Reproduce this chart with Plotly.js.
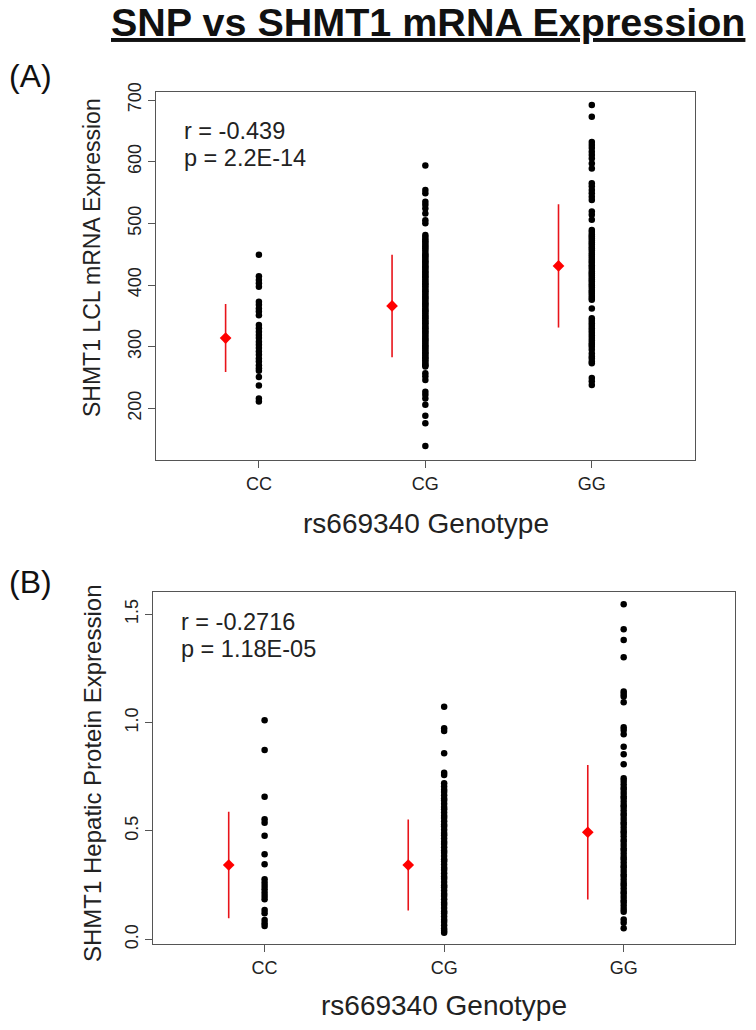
<!DOCTYPE html>
<html><head><meta charset="utf-8">
<script src="https://cdn.plot.ly/plotly-3.0.1.min.js"></script>
<style>html,body{margin:0;padding:0;background:#fff}#chart{width:756px;height:1030px}</style>
</head><body><div id="chart"></div>
<script>
// ---------- DATA ----------
const genotypes = ["CC", "CG", "GG"];

// Panel A: SHMT1 LCL mRNA expression
const mrnaCC = [449, 414, 408, 403, 397, 373, 368, 362, 357, 351, 335, 330, 324, 319, 314, 308, 303, 298, 292, 287, 281, 276, 270, 265, 261, 251, 237, 216, 211];
const mrnaCG = [594, 554, 549, 535, 530, 524, 516, 505, 500,
  481, 478, 474, 471, 468, 465, 462, 459, 456, 452, 449, 447, 444, 441, 438, 436, 433, 430, 428, 425, 422, 420, 417, 414, 412, 409, 406, 403, 401, 398, 395, 392, 390, 387, 384, 381, 379, 376, 373, 370, 368, 365, 362, 359, 357, 354, 351, 348, 346, 343, 340, 338, 335, 332, 330, 327, 324, 322, 319, 316, 313, 311, 308, 305, 302, 300, 297, 294, 291, 289, 286, 283, 281, 278, 275, 272, 270, 268,
  257, 252, 246, 227, 222, 216, 206, 188, 176, 139];
const mrnaGG = [692, 673, 632, 627, 622, 616, 611, 605, 597, 589, 565, 560, 554, 549, 543, 538, 519, 514, 506,
  489, 486, 482, 479, 476, 472, 469, 466, 462, 459, 456, 452, 449, 446, 442, 439, 436, 432, 429, 426, 422, 419, 416, 412, 409, 406, 402, 399, 396, 392, 389, 386, 382, 379, 376,
  362, 346, 342, 338, 334, 330, 326, 322, 318, 314, 310, 306, 303, 300, 295, 289, 284, 281, 276, 273, 249, 244, 238];
const mrnaMean = [314, 366, 431];
const mrnaSD = [55, 83, 100];
const mrnaStats = ["r = -0.439", "p = 2.2E-14"];

// Panel B: SHMT1 hepatic protein expression
const protCC = [1.011, 0.873, 0.658, 0.554, 0.538, 0.478, 0.392, 0.346, 0.277, 0.261, 0.246, 0.231, 0.215, 0.200, 0.185, 0.135, 0.120, 0.089, 0.074, 0.061];
const protCG = [1.073, 0.974, 0.961, 0.858, 0.769, 0.758,
  0.72, 0.705, 0.69, 0.68, 0.665, 0.65, 0.64, 0.625, 0.61, 0.60, 0.585, 0.57, 0.56, 0.545, 0.53, 0.52, 0.505, 0.49, 0.48, 0.465, 0.45, 0.44, 0.425, 0.41, 0.40, 0.385, 0.37, 0.36, 0.345, 0.33, 0.32, 0.305, 0.29, 0.28, 0.265, 0.25, 0.24, 0.225, 0.21, 0.20, 0.185, 0.17, 0.16, 0.145, 0.13, 0.12, 0.105, 0.09, 0.08, 0.065, 0.05, 0.04, 0.03];
const protGG = [1.546, 1.431, 1.381, 1.301, 1.143, 1.132, 1.120, 1.094, 0.978, 0.966, 0.946, 0.889, 0.854, 0.808,
  0.743, 0.73, 0.715, 0.70, 0.69, 0.675, 0.66, 0.65, 0.635, 0.62, 0.61, 0.595, 0.58, 0.57, 0.555, 0.54, 0.53, 0.515, 0.50, 0.49, 0.475, 0.46, 0.45, 0.435, 0.42, 0.41, 0.395, 0.38, 0.37, 0.355, 0.34, 0.33, 0.315, 0.30, 0.29, 0.275, 0.26, 0.25, 0.235, 0.22, 0.21, 0.195, 0.18, 0.17, 0.155, 0.14, 0.127,
  0.092, 0.077, 0.051];
const protMean = [0.343, 0.343, 0.494];
const protSD = [0.246, 0.21, 0.31];
const protStats = ["r = -0.2716", "p = 1.18E-05"];

const yTicksA = [200, 300, 400, 500, 600, 700];
const yTicksB = [0, 0.5, 1.0, 1.5];
const yTickTextB = ["0.0", "0.5", "1.0", "1.5"];

// ---------- STYLE ----------
const W = 756, H = 1030;
const FONT = "Liberation Sans, Arial, Helvetica, sans-serif";
const px = v => v / W, py = v => 1 - v / H;
const MEAN_OFFSET = -0.2;

function dots(vals, i, xa, ya) {
  return { type: "scatter", mode: "markers", x: vals.map(() => i), y: vals,
    xaxis: xa, yaxis: ya, marker: { color: "#000", size: 6.5 }, hoverinfo: "y", showlegend: false };
}
function means(m, sd, xa, ya) {
  return { type: "scatter", mode: "markers", x: m.map((_, i) => i + MEAN_OFFSET), y: m,
    xaxis: xa, yaxis: ya,
    error_y: { type: "data", array: sd, visible: true, color: "#e8141a", thickness: 1.6, width: 0 },
    marker: { color: "#ff0000", symbol: "diamond", size: 9 }, showlegend: false };
}

const traces = [
  dots(mrnaCC, 0, "x", "y"), dots(mrnaCG, 1, "x", "y"), dots(mrnaGG, 2, "x", "y"),
  means(mrnaMean, mrnaSD, "x", "y"),
  dots(protCC, 0, "x2", "y2"), dots(protCG, 1, "x2", "y2"), dots(protGG, 2, "x2", "y2"),
  means(protMean, protSD, "x2", "y2")
];

const axisLine = { showline: true, mirror: true, linecolor: "#555", linewidth: 1,
  ticks: "outside", ticklen: 7, tickcolor: "#555", showgrid: false, zeroline: false,
  tickfont: { family: FONT, size: 18, color: "#222" } };

const layout = {
  width: W, height: H, margin: { l: 0, r: 0, t: 0, b: 0 },
  paper_bgcolor: "#fff", plot_bgcolor: "#fff", showlegend: false,
  font: { family: FONT, color: "#222" },
  xaxis: Object.assign({}, axisLine, { domain: [px(155.7), px(695)], range: [-0.62, 2.62],
    tickvals: [0, 1, 2], ticktext: genotypes, anchor: "y" }),
  yaxis: Object.assign({}, axisLine, { domain: [py(460), py(92)], range: [116.2, 713],
    tickvals: yTicksA, tickangle: -90, anchor: "x" }),
  xaxis2: Object.assign({}, axisLine, { domain: [px(153.3), px(735)], range: [-0.62, 2.62],
    tickvals: [0, 1, 2], ticktext: genotypes, anchor: "y2" }),
  yaxis2: Object.assign({}, axisLine, { domain: [py(944.3), py(591.7)], range: [-0.023, 1.604],
    tickvals: yTicksB, ticktext: yTickTextB, tickangle: -90, anchor: "x2" }),
  annotations: [
    { text: "<b><u>SNP vs SHMT1 mRNA Expression</u></b>", xref: "paper", yref: "paper",
      x: px(428), y: py(22), xanchor: "center", yanchor: "middle", showarrow: false,
      font: { family: FONT, size: 39.5, color: "#111" } },
    { text: "(A)", xref: "paper", yref: "paper", x: px(7), y: py(76), xanchor: "left", yanchor: "middle",
      showarrow: false, font: { family: FONT, size: 32, color: "#111" } },
    { text: "(B)", xref: "paper", yref: "paper", x: px(7), y: py(582), xanchor: "left", yanchor: "middle",
      showarrow: false, font: { family: FONT, size: 32, color: "#111" } },
    { text: "SHMT1 LCL mRNA Expression", xref: "paper", yref: "paper", x: px(92), y: py(258),
      xanchor: "center", yanchor: "middle", textangle: -90, showarrow: false,
      font: { family: FONT, size: 23, color: "#222" } },
    { text: "SHMT1 Hepatic Protein Expression", xref: "paper", yref: "paper", x: px(92), y: py(774),
      xanchor: "center", yanchor: "middle", textangle: -90, showarrow: false,
      font: { family: FONT, size: 24, color: "#222" } },
    { text: "rs669340 Genotype", xref: "paper", yref: "paper", x: px(426), y: py(523),
      xanchor: "center", yanchor: "middle", showarrow: false, font: { family: FONT, size: 28, color: "#222" } },
    { text: "rs669340 Genotype", xref: "paper", yref: "paper", x: px(444), y: py(1005),
      xanchor: "center", yanchor: "middle", showarrow: false, font: { family: FONT, size: 28, color: "#222" } },
    { text: mrnaStats[0], xref: "paper", yref: "paper", x: px(182), y: py(131), xanchor: "left", yanchor: "middle",
      showarrow: false, font: { family: FONT, size: 23.5, color: "#222" } },
    { text: mrnaStats[1], xref: "paper", yref: "paper", x: px(182), y: py(158), xanchor: "left", yanchor: "middle",
      showarrow: false, font: { family: FONT, size: 23.5, color: "#222" } },
    { text: protStats[0], xref: "paper", yref: "paper", x: px(179), y: py(622), xanchor: "left", yanchor: "middle",
      showarrow: false, font: { family: FONT, size: 23.5, color: "#222" } },
    { text: protStats[1], xref: "paper", yref: "paper", x: px(179), y: py(649), xanchor: "left", yanchor: "middle",
      showarrow: false, font: { family: FONT, size: 23.5, color: "#222" } }
  ]
};

Plotly.newPlot("chart", traces, layout, { staticPlot: true, displayModeBar: false });
</script>
</body></html>
